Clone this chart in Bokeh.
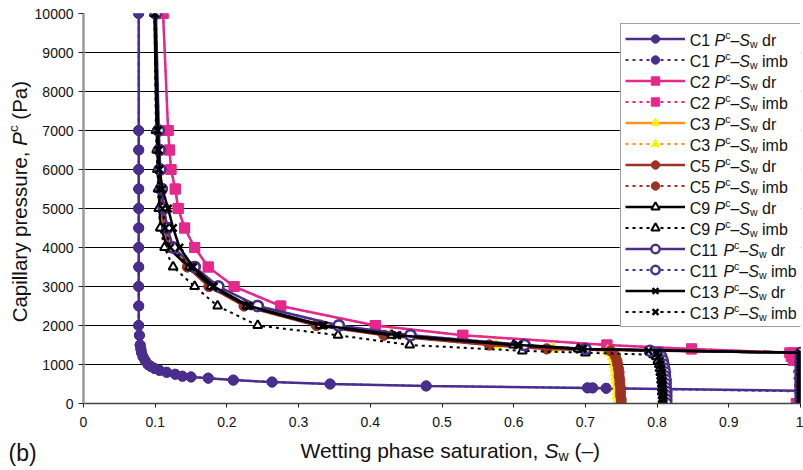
import math
from bokeh.plotting import figure
from bokeh.layouts import row, column
from bokeh.models import (Range1d, FixedTicker, NumeralTickFormatter, Legend, LegendItem, Grid)
from bokeh.core.properties import value
from bokeh.embed import file_html
from bokeh.resources import INLINE

# ---------------- data ----------------
X_TICKS = [0, 0.1, 0.2, 0.3, 0.4, 0.5, 0.6, 0.7, 0.8, 0.9, 1]
Y_TICKS = [0, 1000, 2000, 3000, 4000, 5000, 6000, 7000, 8000, 9000, 10000]

# C1
C1_DR_PC = [10000, 7000, 6500, 6000, 5500, 5000, 4500, 4000, 3500, 3000, 2500, 2000, 1750, 1500, 1400,
            1300, 1200, 1100, 1000, 950, 900, 850, 800, 750, 700, 680, 650, 600, 550, 500, 450, 400,
            400, 390, 330]
C1_DR_SW = [0.077, 0.077, 0.077, 0.077, 0.077, 0.077, 0.077, 0.077, 0.077, 0.077, 0.077, 0.077, 0.078,
            0.079, 0.080, 0.081, 0.083, 0.086, 0.090, 0.094, 0.099, 0.106, 0.116, 0.128, 0.138, 0.150,
            0.174, 0.209, 0.263, 0.344, 0.478, 0.703, 0.710, 0.729, 1.0]
C1_IMB_PC = [10000, 7000, 6500, 6000, 5500, 5000, 4500, 4000, 3500, 3000, 2500, 2000, 1750, 1500, 1400,
             1300, 1200, 1100, 1000, 950, 900, 850, 800, 750, 700, 680, 650, 600, 550, 500, 450, 400,
             400, 390, 310]
C1_IMB_SW = [0.077, 0.077, 0.077, 0.077, 0.077, 0.077, 0.077, 0.077, 0.077, 0.077, 0.077, 0.077, 0.078,
             0.079, 0.080, 0.081, 0.083, 0.086, 0.090, 0.094, 0.099, 0.106, 0.116, 0.128, 0.138, 0.150,
             0.174, 0.209, 0.263, 0.344, 0.478, 0.703, 0.710, 0.729, 1.0]

# C2
C2_DR_PC = [10000, 7000, 6500, 6000, 5500, 5000, 4500, 4000, 3500, 3000, 2500, 2000, 1750, 1500, 1400,
            1300, 1200, 1000, 800, 600, 400, 200, 0]
C2_DR_SW = [0.111, 0.118, 0.120, 0.122, 0.128, 0.132, 0.141, 0.155, 0.174, 0.210, 0.275, 0.407, 0.529,
            0.730, 0.848, 0.989, 1.0, 1.0, 1.0, 1.0, 1.0, 1.0, 1.0]
C2_IMB_PC = [10000, 7000, 6500, 6000, 5500, 5000, 4500, 4000, 3500, 3000, 2500, 2000, 1750, 1500, 1400,
             1300, 1200, 1100, 0]
C2_IMB_SW = [0.111, 0.118, 0.120, 0.122, 0.128, 0.132, 0.141, 0.155, 0.174, 0.210, 0.275, 0.407, 0.529,
             0.730, 0.848, 0.985, 0.987, 0.990, 0.994]

# shared pressure steps for C3, C5, C9, C11, C13 drainage and C3, C5, C11, C13 imbibition
PC_DR = [10000, 7000, 6500, 6000, 5500, 5000, 4500, 4000, 3500, 3000, 2500, 2000, 1750, 1500, 1400,
         1300, 1200, 1100, 1000, 900, 800, 700, 600, 500, 400, 300, 200, 100, 0]
PC_IMB = [10000, 7000, 6500, 6000, 5500, 5000, 4500, 4000, 3500, 3000, 2500, 2000, 1750, 1500, 1400,
          1350, 1300, 1200, 1100, 1000, 900, 800, 700, 600, 500, 400, 300, 200, 100, 0]

C3_DR_SW = [0.100, 0.103, 0.104, 0.106, 0.108, 0.110, 0.115, 0.123, 0.150, 0.180, 0.230, 0.332, 0.427,
            0.575, 0.655, 1.0, 1.0, 1.0, 1.0, 1.0, 1.0, 1.0, 1.0, 1.0, 1.0, 1.0, 1.0, 1.0, 1.0]
C3_IMB_SW = [0.100, 0.103, 0.104, 0.106, 0.108, 0.110, 0.115, 0.123, 0.150, 0.180, 0.230, 0.332, 0.427,
             0.575, 0.655, 0.731, 0.735, 0.738, 0.740, 0.741, 0.742, 0.743, 0.743, 0.744, 0.744, 0.745,
             0.745, 0.745, 0.746, 0.746]

C5_DR_SW = [0.100, 0.103, 0.104, 0.105, 0.107, 0.109, 0.113, 0.120, 0.145, 0.175, 0.224, 0.325, 0.419,
            0.566, 0.646, 1.0, 1.0, 1.0, 1.0, 1.0, 1.0, 1.0, 1.0, 1.0, 1.0, 1.0, 1.0, 1.0, 1.0]
C5_IMB_SW = [0.100, 0.103, 0.104, 0.105, 0.107, 0.109, 0.113, 0.120, 0.145, 0.175, 0.224, 0.325, 0.419,
             0.566, 0.646, 0.735, 0.739, 0.742, 0.744, 0.745, 0.746, 0.747, 0.747, 0.748, 0.748, 0.749,
             0.749, 0.749, 0.750, 0.750]

C9_DR_SW = [0.099, 0.102, 0.103, 0.104, 0.105, 0.106, 0.108, 0.117, 0.148, 0.178, 0.228, 0.330, 0.430,
            0.600, 0.690, 1.0, 1.0, 1.0, 1.0, 1.0, 1.0, 1.0, 1.0, 1.0, 1.0, 1.0, 1.0, 1.0, 1.0]
C9_IMB_PC = [10000, 7000, 6500, 6000, 5500, 5000, 4500, 4000, 3500, 3000, 2500, 2000, 1750, 1500, 1350,
             1300, 1250, 1200, 1100, 1000, 900, 800, 700, 600, 500, 400, 300, 200, 100, 0]
C9_IMB_SW = [0.099, 0.101, 0.102, 0.103, 0.104, 0.105, 0.107, 0.113, 0.125, 0.155, 0.187, 0.243, 0.355,
             0.455, 0.612, 0.700, 0.795, 0.799, 0.801, 0.803, 0.804, 0.805, 0.806, 0.806, 0.807, 0.807,
             0.807, 0.808, 0.808, 0.808]

C11_DR_SW = [0.101, 0.105, 0.106, 0.107, 0.109, 0.112, 0.117, 0.125, 0.155, 0.188, 0.243, 0.356, 0.456,
             0.615, 0.700, 1.0, 1.0, 1.0, 1.0, 1.0, 1.0, 1.0, 1.0, 1.0, 1.0, 1.0, 1.0, 1.0, 1.0]
C11_IMB_SW = [0.101, 0.105, 0.106, 0.107, 0.109, 0.112, 0.117, 0.125, 0.155, 0.188, 0.243, 0.356, 0.456,
              0.615, 0.700, 0.790, 0.803, 0.806, 0.808, 0.809, 0.810, 0.811, 0.811, 0.812, 0.812, 0.812,
              0.813, 0.813, 0.813, 0.813]

C13_DR_SW = [0.100, 0.104, 0.105, 0.106, 0.110, 0.118, 0.125, 0.134, 0.153, 0.182, 0.231, 0.335, 0.438,
             0.607, 0.697, 1.0, 1.0, 1.0, 1.0, 1.0, 1.0, 1.0, 1.0, 1.0, 1.0, 1.0, 1.0, 1.0, 1.0]
C13_IMB_SW = [0.099, 0.103, 0.104, 0.105, 0.106, 0.110, 0.114, 0.121, 0.150, 0.180, 0.229, 0.333, 0.436,
              0.605, 0.695, 0.788, 0.800, 0.802, 0.804, 0.805, 0.806, 0.807, 0.807, 0.808, 0.808, 0.808,
              0.809, 0.809, 0.809, 0.809]

SERIES_NAMES = ["C1", "C1", "C2", "C2", "C3", "C3", "C5", "C5", "C9", "C9", "C11", "C11", "C13", "C13"]
SERIES_KIND = ["dr", "imb", "dr", "imb", "dr", "imb", "dr", "imb", "dr", "imb", "dr", "imb", "dr", "imb"]
SERIES_SW = [C1_DR_SW, C1_IMB_SW, C2_DR_SW, C2_IMB_SW, C3_DR_SW, C3_IMB_SW, C5_DR_SW, C5_IMB_SW,
             C9_DR_SW, C9_IMB_SW, C11_DR_SW, C11_IMB_SW, C13_DR_SW, C13_IMB_SW]
SERIES_PC = [C1_DR_PC, C1_IMB_PC, C2_DR_PC, C2_IMB_PC, PC_DR, PC_IMB, PC_DR, PC_IMB,
             PC_DR, C9_IMB_PC, PC_DR, PC_IMB, PC_DR, PC_IMB]

# ---------------- styles ----------------
PURPLE = "#4a2d8c"
PINK = "#e6288b"
ORANGE = "#f7941d"
YELLOW = "#fff200"
BROWN = "#9b3223"
BLACK = "#000000"
TEXT = "#111111"

STYLE = {
    "C1": dict(line=PURPLE, marker="circle", fill=PURPLE, mline=PURPLE, size=10, mlw=1),
    "C2": dict(line=PINK, marker="square", fill=PINK, mline=PINK, size=10, mlw=1),
    "C3": dict(line=ORANGE, marker="triangle", fill=YELLOW, mline=YELLOW, size=11, mlw=1),
    "C5": dict(line=BROWN, marker="circle", fill=BROWN, mline=BROWN, size=10, mlw=1),
    "C9": dict(line=BLACK, marker="triangle", fill="white", mline=BLACK, size=9, mlw=2),
    "C11": dict(line=PURPLE, marker="circle", fill="white", mline=PURPLE, size=10, mlw=2.5),
    "C13": dict(line=BLACK, marker="x", fill=BLACK, mline=BLACK, size=10, mlw=2.5),
}
FONT = "Liberation Sans"

# ---------------- layout geometry (page pixels) ----------------
PAGE_W = 803
LW = 31                     # left strip (y title)
TOP_H = 438                 # height of the row holding the plot
BH = 31                     # bottom strip (x title)
MW = PAGE_W - LW
MIN_LEFT, MIN_RIGHT, MIN_TOP, MIN_BOTTOM = 51, 3, 13, 35
FL, FR = LW + MIN_LEFT, PAGE_W - MIN_RIGHT
FT, FB = MIN_TOP, TOP_H - MIN_BOTTOM
X0, X1 = 0, 1
Y0, Y1 = 0, 10000

# ---------------- main plot ----------------
p = figure(width=MW, height=TOP_H, output_backend="svg", toolbar_location=None, title=None,
           x_range=Range1d(X0, X1), y_range=Range1d(Y0, Y1),
           min_border_left=MIN_LEFT, min_border_right=MIN_RIGHT,
           min_border_top=MIN_TOP, min_border_bottom=MIN_BOTTOM)
p.outline_line_color = None
p.background_fill_color = "white"
p.border_fill_color = "white"

p.xgrid.visible = False
p.ygrid.ticker = FixedTicker(ticks=Y_TICKS[:-1])
p.ygrid.grid_line_color = "black"
p.ygrid.grid_line_width = 1
p.add_layout(Grid(dimension=1, ticker=FixedTicker(ticks=Y_TICKS[-1:]),
                  grid_line_color="#a6a6a6", grid_line_width=2.5))

p.xaxis.ticker = FixedTicker(ticks=X_TICKS)
p.xaxis.formatter = NumeralTickFormatter(format="0.[0]")
p.yaxis.ticker = FixedTicker(ticks=Y_TICKS)
for ax in (p.xaxis[0], p.yaxis[0]):
    ax.minor_tick_line_color = None
    ax.major_tick_in = 0
    ax.major_label_text_font = FONT
    ax.major_label_text_font_size = "14px"
    ax.major_label_text_color = TEXT
    ax.major_tick_line_color = "#222222"
p.yaxis.axis_line_color = "#9a9a9a"
p.yaxis.axis_line_width = 2.5
p.yaxis.major_tick_out = 5
p.yaxis.major_label_standoff = 5
p.xaxis.axis_line_color = "#444444"
p.xaxis.axis_line_width = 1.5
p.xaxis.major_tick_out = 4
p.xaxis.major_label_standoff = 9

items = []
for name, kind, sw, pc in zip(SERIES_NAMES, SERIES_KIND, SERIES_SW, SERIES_PC):
    st = STYLE[name]
    if kind == "dr":
        lr = p.line(sw, pc, line_color=st["line"], line_width=2.5)
    else:
        lr = p.line(sw, pc, line_color=st["line"], line_width=2, line_dash="3 4")
    sr = p.scatter(sw, pc, marker=st["marker"], size=st["size"], fill_color=st["fill"],
                   line_color=st["mline"], line_width=st["mlw"])
    items.append(LegendItem(label=" ", renderers=[lr, sr]))


def to_main(px, py):
    return (X0 + (px - FL) / (FR - FL) * (X1 - X0), Y0 + (FB - py) / (FB - FT) * (Y1 - Y0))


# legend box geometry
LEG_PAD, LEG_GH, LEG_GW, LEG_STANDOFF = 4, 21, 60, 5
LEG_LEFT, LEG_TOP = 619, 25
leg_h = 2 * LEG_PAD + len(items) * LEG_GH
leg_w = FR - LEG_LEFT

# opaque white panel behind the legend (legend itself is transparent so its text shows)
bx0, by0 = to_main(LEG_LEFT, LEG_TOP + leg_h)
bx1, by1 = to_main(FR, LEG_TOP)
p.quad(left=[bx0], right=[bx1], bottom=[by0], top=[by1], fill_color="white", line_color=None)

legend = Legend(items=items, location=(LEG_LEFT - FL, FB - (LEG_TOP + leg_h)),
                padding=LEG_PAD, spacing=0, margin=0,
                glyph_width=LEG_GW, glyph_height=LEG_GH, label_height=LEG_GH,
                label_standoff=LEG_STANDOFF,
                label_width=leg_w - 2 * LEG_PAD - LEG_GW - LEG_STANDOFF,
                label_text_font_size="6px",
                border_line_color="#404040", border_line_width=1.5,
                background_fill_alpha=0.0)
p.add_layout(legend)

# ---------------- rich text helpers ----------------
ARIAL = {' ': 278, '(': 333, ')': 333, ',': 278, '.': 278, '–': 556, 'C': 722, 'P': 667, 'S': 667,
         'W': 944, 'a': 556, 'b': 556, 'c': 500, 'd': 556, 'e': 556, 'g': 556, 'h': 556, 'i': 222,
         'l': 222, 'm': 833, 'n': 556, 'o': 556, 'p': 556, 'r': 333, 's': 500, 't': 278, 'u': 556,
         'w': 722, 'y': 500}


def tw(text, size):
    return sum(ARIAL.get(ch, 556) for ch in text) * size / 1000.0


def rich(px, py, parts, vertical=False):
    """Runs of text laid out one after another from a shared anchor, using pixel offsets.
    Horizontal: anchor is the left end. Vertical (reading upward): anchor is the centre."""
    total = sum(tw(t, s) for t, s, _, _ in parts)
    out = []
    pos = 0.0
    for text, size, style, d in parts:
        lead = text[:len(text) - len(text.lstrip())]
        core = text.strip()
        start = pos + tw(lead, size)
        if vertical:
            out.append((px, py - total / 2, d, total / 2 - start, core, size, style, math.pi / 2))
        else:
            out.append((px, py, start, d, core, size, style, 0.0))
        pos += tw(text, size)
    return out


def draw_texts(fig, pieces, conv):
    groups = {}
    for ax_, ay_, dx, dy, text, size, style, ang in pieces:
        groups.setdefault((size, style, ang), []).append((ax_, ay_, dx, dy, text))
    for (size, style, ang), lst in groups.items():
        pts = [conv(a, b) for a, b, _, _, _ in lst]
        fig.text(x=[u for u, _ in pts], y=[v for _, v in pts], text=[e[4] for e in lst],
                 x_offset=[e[2] for e in lst], y_offset=[e[3] for e in lst],
                 text_font=value(FONT), text_font_size=value(f"{size}px"),
                 text_font_style=value(style), text_align=value("left"),
                 text_baseline=value("middle"), text_color=TEXT, angle=ang)


# legend labels (inside the main plot)
LT, LS = 16, 10.5
text_x = LEG_LEFT + LEG_PAD + LEG_GW + LEG_STANDOFF + 1
leg_pieces = []
for i, (name, kind) in enumerate(zip(SERIES_NAMES, SERIES_KIND)):
    cy = LEG_TOP + LEG_PAD + LEG_GH / 2 + i * LEG_GH
    leg_pieces += rich(text_x, cy, [(name + " ", LT, "normal", 0), ("P", LT, "italic", 0),
                                    ("c", LS, "normal", -5), ("–", LT, "normal", 0),
                                    ("S", LT, "italic", 0), ("w", LS, "normal", 4),
                                    (" " + kind, LT, "normal", 0)])
draw_texts(p, leg_pieces, to_main)


def strip(width, height):
    f = figure(width=width, height=height, output_backend="svg", toolbar_location=None, title=None,
               x_range=Range1d(0, width), y_range=Range1d(0, height),
               x_axis_location=None, y_axis_location=None, min_border=0)
    f.outline_line_color = None
    f.grid.visible = False
    f.background_fill_color = "white"
    f.border_fill_color = "white"
    return f


# left strip: y-axis title (reads upward)
left = strip(LW, TOP_H)
draw_texts(left, rich(19, 332, [("Capillary pressure, ", 20.5, "normal", 0), ("P", 20.5, "italic", 0),
                                ("c", 13.5, "normal", -6), (" (Pa)", 20.5, "normal", 0)], vertical=True),
           lambda px, py: (px, TOP_H - py))

# bottom strip: x-axis title and panel tag
bottom = strip(PAGE_W, BH)
bottom_pieces = rich(300, 450, [("Wetting phase saturation, ", 21, "normal", 0), ("S", 21, "italic", 0),
                                ("w", 14, "normal", 5), (" (–)", 21, "normal", 0)])
bottom_pieces += rich(8, 452, [("(b)", 23, "normal", 0)])
draw_texts(bottom, bottom_pieces, lambda px, py: (px, BH - (py - TOP_H)))

page = column(row(left, p, spacing=0), bottom, spacing=0)
open("out.html", "w").write(file_html(page, INLINE))
